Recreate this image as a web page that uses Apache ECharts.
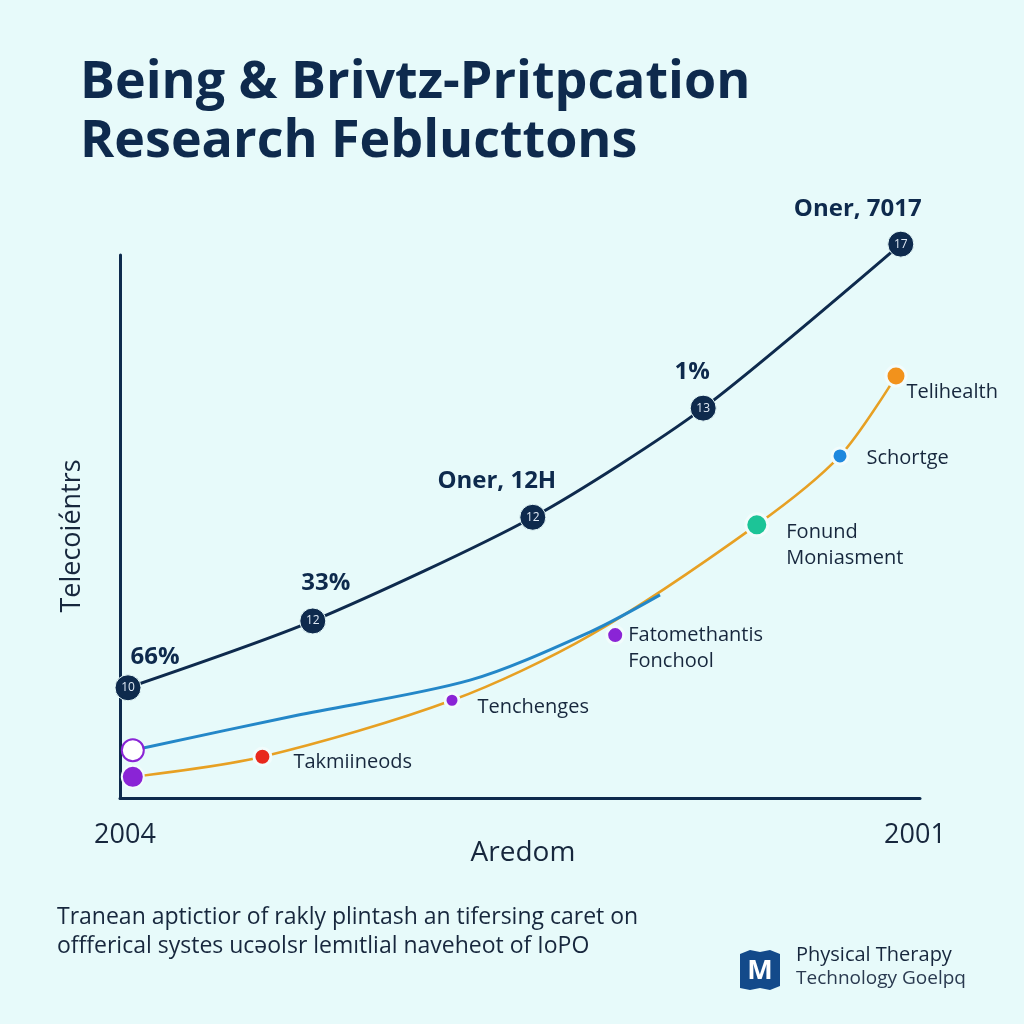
<!DOCTYPE html>
<html><head><meta charset="utf-8">
<script src="https://cdn.jsdelivr.net/npm/echarts@6/dist/echarts.min.js"></script>
<style>html,body{margin:0;padding:0;background:#e7fafa;}#c{width:1024px;height:1024px;}</style>
</head><body><div id="c"></div>
<script>
// ---- data ----
const titleLines = ['Being & Brivtz-Pritpcation', 'Research Feblucttons'];
const xTickLabels = ['2004', '2001'];
const xAxisName = 'Aredom';
const yAxisName = 'Telecoiéntrs';
const darkX = [1, 24.1, 51.6, 72.9, 97.6];
const darkY = [20.3, 32.6, 51.7, 71.8, 102];
const darkTags = ['10', '12', '12', '13', '17'];
const darkNotes = ['66%', '33%', 'Oner, 12H', '1%', 'Oner, 7017'];
const orangeX = [1.6, 17.8, 41.5, 58.8, 79.6, 90, 97];
const orangeY = [3.9, 7.6, 18, 30, 50.3, 63, 77.7];
const blueX = [1.6, 22, 43.75, 58.8, 67.5];
const blueY = [8.8, 15.2, 21.7, 30.6, 37.4];
const pointNames = ['Telihealth', 'Schortge', 'Fonund\nMoniasment', 'Fatomethantis\nFonchool', 'Tenchenges', 'Takmiineods'];
const pointX = [97, 90, 79.6, 61.9, 41.5, 17.8];
const pointY = [77.7, 63, 50.3, 30, 18, 7.6];
const startX = [1.6, 1.6];
const startY = [3.9, 8.8];
const footnote = ['Tranean aptictior of rakly plintash an tifersing caret on', 'offferical systes ucəolsr lemıtlial naveheot of IoPO'];
const brand = ['Physical Therapy', 'Technology Goelpq'];

// ---- styles ----
const navy = '#0e2a4d';
const txt = '#17273d';
const pointColors = ['#f2921c', '#1f88de', '#1cc497', '#8a24d6', '#8a24d6', '#e8281c'];
const pointSizes = [20, 16, 22, 17, 14, 17];
const pointLabelOffsets = [[-6, 16], [12, 2], [12, 20], [-2, 13], [12, 7], [16, 6]];
const noteOffsets = [[27, -31], [13, -38], [-36, -36], [-11, -36], [-43, -35]];

const chart = echarts.init(document.getElementById('c'));
const zip = (a, b) => a.map((v, i) => [v, b[i]]);

chart.setOption({
  backgroundColor: '#e7fafa',
  animation: false,
  grid: { left: 120, right: 104, top: 255, bottom: 226 },
  xAxis: {
    type: 'value', min: 0, max: 100, interval: 100,
    axisLine: { show: true, lineStyle: { color: navy, width: 3 } },
    axisTick: { show: false }, splitLine: { show: false },
    axisLabel: { show: false }
  },
  yAxis: {
    type: 'value', min: 0, max: 100,
    axisLine: { show: true, lineStyle: { color: navy, width: 3 } },
    axisTick: { show: false }, splitLine: { show: false },
    axisLabel: { show: false }
  },
  graphic: [
    { type: 'text', x: 80, y: 57, style: { text: titleLines[0], font: 'bold 52px "Open Sans"', fill: navy } },
    { type: 'text', x: 80, y: 116, style: { text: titleLines[1], font: 'bold 52px "Open Sans"', fill: navy } },
    { type: 'text', x: 72, y: 536, rotation: Math.PI / 2, style: { text: yAxisName, font: '27px "Open Sans"', fill: txt, align: 'center', verticalAlign: 'middle' } },
    { type: 'text', x: 125, y: 835, style: { text: xTickLabels[0], font: '27px "Open Sans"', fill: txt, align: 'center', verticalAlign: 'middle' } },
    { type: 'text', x: 915, y: 835, style: { text: xTickLabels[1], font: '27px "Open Sans"', fill: txt, align: 'center', verticalAlign: 'middle' } },
    { type: 'text', x: 523, y: 853, style: { text: xAxisName, font: '28px "Open Sans"', fill: txt, align: 'center', verticalAlign: 'middle' } },
    { type: 'text', x: 57, y: 906, style: { text: footnote[0], font: '23px "Open Sans"', fill: txt } },
    { type: 'text', x: 57, y: 935, style: { text: footnote[1], font: '23px "Open Sans"', fill: txt } },
    { type: 'polygon', shape: { points: [[740, 954], [750, 950], [760, 952], [770, 950], [780, 954], [780, 986], [770, 990], [760, 988], [750, 990], [740, 988]] }, style: { fill: '#134a8a' } },
    { type: 'text', x: 760, y: 971, style: { text: 'M', font: 'bold 27px "Open Sans"', fill: '#ffffff', align: 'center', verticalAlign: 'middle' } },
    { type: 'text', x: 796, y: 945, style: { text: brand[0], font: '20px "Open Sans"', fill: txt } },
    { type: 'text', x: 796, y: 969, style: { text: brand[1], font: '19px "Open Sans"', fill: '#2a3a50' } }
  ],
  series: [
    {
      type: 'line', data: zip(orangeX, orangeY), smooth: 0.3, symbol: 'none', clip: false,
      lineStyle: { color: '#e7a023', width: 2.5 }, z: 2
    },
    {
      type: 'line', data: zip(blueX, blueY), smooth: 0.3, symbol: 'none', clip: false,
      lineStyle: { color: '#2487c8', width: 3 }, z: 3
    },
    {
      type: 'line', data: zip(darkX, darkY), smooth: 0.25, clip: false,
      symbol: 'circle', symbolSize: 26,
      itemStyle: { color: navy, borderColor: '#e7fafa', borderWidth: 1 },
      lineStyle: { color: navy, width: 3 },
      label: { show: true, position: 'inside', formatter: p => darkTags[p.dataIndex], color: '#dfe9f5', fontSize: 12, fontFamily: 'Open Sans' },
      z: 5
    },
    {
      type: 'scatter', data: zip(darkX, darkY), symbolSize: 0, clip: false, silent: true,
      itemStyle: { opacity: 1 },
      label: {
        show: true, position: 'inside', color: navy, fontSize: 24, fontWeight: 'bold', fontFamily: 'Open Sans',
        formatter: p => darkNotes[p.dataIndex]
      },
      labelLayout: p => ({ dx: noteOffsets[p.dataIndex][0], dy: noteOffsets[p.dataIndex][1] }),
      z: 6
    },
    {
      type: 'scatter', clip: false,
      itemStyle: { opacity: 1 },
      data: pointX.map((x, i) => ({
        value: [x, pointY[i]], symbolSize: pointSizes[i],
        itemStyle: { color: pointColors[i], borderColor: '#f2fcfc', borderWidth: 3, opacity: 1 },
        label: { offset: pointLabelOffsets[i] }
      })),
      label: {
        show: true, position: 'right', color: txt, fontSize: 20, fontFamily: 'Open Sans', lineHeight: 26,
        formatter: p => pointNames[p.dataIndex]
      },
      z: 7
    },
    {
      type: 'scatter', clip: false,
      itemStyle: { opacity: 1 },
      data: [
        { value: [startX[0], startY[0]], symbolSize: 22, itemStyle: { color: '#8a24d6', borderColor: '#f2fcfc', borderWidth: 2, opacity: 1 } },
        { value: [startX[1], startY[1]], symbolSize: 22, itemStyle: { color: '#ffffff', borderColor: '#8a24d6', borderWidth: 2, opacity: 1 } }
      ],
      z: 7
    }
  ]
});
</script></body></html>
